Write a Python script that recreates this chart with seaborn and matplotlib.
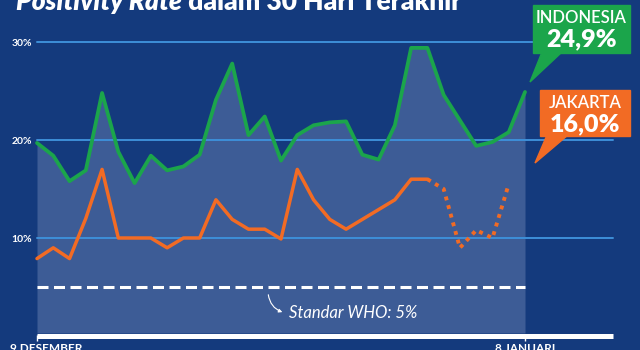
import numpy as np
import pandas as pd
import matplotlib
matplotlib.use("Agg")
import matplotlib.pyplot as plt
import seaborn as sns
from matplotlib.patches import Rectangle, Polygon, FancyArrowPatch

# ---------------- data ----------------
days = list(range(31))  # 9 Desember .. 8 Januari
indonesia = [19.7, 18.4, 15.8, 16.9, 24.8, 18.8, 15.6, 18.4, 16.9, 17.3,
             18.5, 24.1, 27.8, 20.5, 22.4, 17.9, 20.5, 21.5, 21.8, 21.9,
             18.5, 18.0, 21.5, 29.4, 29.4, 24.6, 22.0, 19.4, 19.8, 20.8, 24.9]
jakarta_days = list(range(25))
jakarta = [7.9, 9.0, 7.9, 12.0, 17.0, 10.0, 10.0, 10.0, 9.0, 10.0,
           10.0, 13.9, 11.9, 10.9, 10.9, 9.9, 17.0, 13.9, 11.9, 10.9,
           11.9, 12.9, 13.9, 16.0, 16.0]
jakarta_prov_days = [24, 25, 26, 27, 28, 29]
jakarta_prov = [16.0, 15.0, 9.0, 10.8, 10.0, 15.5]
who_std = 5
yticks = [10, 20, 30]
ytick_labels = ["10%", "20%", "30%"]
date_labels = ["9 DESEMBER", "8 JANUARI"]
title_italic = "Positivity Rate"
title_rest = " dalam 30 Hari Terakhir"
ind_label, ind_value = "INDONESIA", "24,9%"
jkt_label, jkt_value = "JAKARTA", "16,0%"
who_label = "Standar WHO: 5%"

# ---------------- style ----------------
BG = "#143A7D"
FILL = "#3D5C96"
GRID = "#3E8FD8"
GREEN = "#1BA54B"
ORANGE = "#F26B24"
FONT = ["Lato", "DejaVu Sans"]

sns.set_style("white")
plt.rcParams["font.family"] = FONT

W, H = 640, 350
fig = plt.figure(figsize=(6.4, 3.5), dpi=100, facecolor=BG)
ax = fig.add_axes([0, 0, 1, 1])
ax.set_facecolor(BG)

X0, DX = 37.0, 16.267   # pixel x of day 0, pixel per day
Y0, DY = 336.0, 9.8     # pixel y of 0 %, pixel per %
ax.set_xlim(-X0 / DX, (W - X0) / DX)
ax.set_ylim((Y0 - H) / DY, Y0 / DY)
for s in ax.spines.values():
    s.set_visible(False)

def px(x):
    return (x - X0) / DX

def py(y):
    return (Y0 - y) / DY

def fx(x):
    return x / W

def fy(y):
    return 1 - y / H

df_ind = pd.DataFrame({"day": days, "rate": indonesia})
df_jkt = pd.DataFrame({"day": jakarta_days, "rate": jakarta})
df_jp = pd.DataFrame({"day": jakarta_prov_days, "rate": jakarta_prov})

# shaded area under Indonesia
ax.fill_between(df_ind["day"], py(333), df_ind["rate"], color=FILL, lw=0, zorder=1)

# gridlines
for t in yticks:
    ax.plot([0, px(613)], [t, t], color=GRID, lw=1.4, zorder=2)

# y tick labels
ax.set_yticks(yticks)
ax.set_yticklabels(ytick_labels)
ax.tick_params(axis="y", length=0, pad=-23, labelsize=7.5, labelcolor="white")
for lab in ax.get_yticklabels():
    lab.set_fontweight("bold")
ax.set_xticks([])

# WHO dashed line
ax.plot([0, 30], [who_std, who_std], color="white", lw=2.2,
        dashes=(3.6, 1.8), zorder=3)

# lines
sns.lineplot(data=df_ind, x="day", y="rate", ax=ax, color=GREEN, lw=2.7, zorder=5)
sns.lineplot(data=df_jkt, x="day", y="rate", ax=ax, color=ORANGE, lw=2.5, zorder=5)
sns.lineplot(data=df_jp, x="day", y="rate", ax=ax, color=ORANGE, lw=2.8,
             linestyle=(0, (1, 1.3)), zorder=5)
ax.set_xlabel("")
ax.set_ylabel("")

# bottom white bar and ticks
ax.plot([0, px(613)], [py(335.5), py(335.5)], color="white", lw=3.6,
        solid_capstyle="butt", zorder=6)
ax.vlines([0, 30], py(341), py(335), color="white", lw=1, zorder=6)
ax.text(px(46), py(343), date_labels[0], color="white", fontsize=8.5,
        fontweight="bold", ha="center", va="top")
ax.text(30, py(343), date_labels[1], color="white", fontsize=8.5,
        fontweight="bold", ha="center", va="top")

# WHO annotation
ax.text(px(289), py(313), who_label, color="white", fontsize=12,
        fontstyle="italic", fontweight="normal", ha="left", va="center", zorder=7)
arr = FancyArrowPatch((px(268), py(292)), (px(285), py(313)),
                      connectionstyle="arc3,rad=0.35", arrowstyle="-|>",
                      mutation_scale=5, color="white", lw=0.8, zorder=6)
ax.add_patch(arr)

# title
renderer = fig.canvas.get_renderer()
t1 = fig.text(fx(16), fy(10), title_italic, color="white", fontsize=19,
              fontweight="heavy", fontstyle="italic", va="baseline", ha="left")
bb = t1.get_window_extent(renderer=renderer)
fig.text(bb.x1 / W, fy(10), title_rest, color="white", fontsize=19,
         fontweight="heavy", va="baseline", ha="left")

# callout boxes
def callout(x0, y0, x1, y1, tri, color, lab, val, ylab, yval):
    fig.patches.append(Rectangle((fx(x0), fy(y1)), fx(x1) - fx(x0), fy(y0) - fy(y1),
                                 transform=fig.transFigure, color=color, zorder=10))
    fig.patches.append(Polygon([(fx(a), fy(b)) for a, b in tri], closed=True,
                               transform=fig.transFigure, color=color, zorder=10))
    cx = fx((x0 + x1) / 2)
    fig.text(cx, fy(ylab), lab, color="white", fontsize=12, fontweight="semibold",
             ha="center", va="center", zorder=11)
    fig.text(cx, fy(yval), val, color="white", fontsize=18, fontweight="heavy",
             ha="center", va="center", zorder=11)

callout(533, 5, 630, 53, [(542, 52), (562, 52), (530, 82)], GREEN,
        ind_label, ind_value, 18, 39.5)
callout(540, 90, 630, 136, [(547, 135), (568, 135), (535, 163)], ORANGE,
        jkt_label, jkt_value, 103, 124)

fig.savefig("out.png", dpi=100, facecolor=BG)
